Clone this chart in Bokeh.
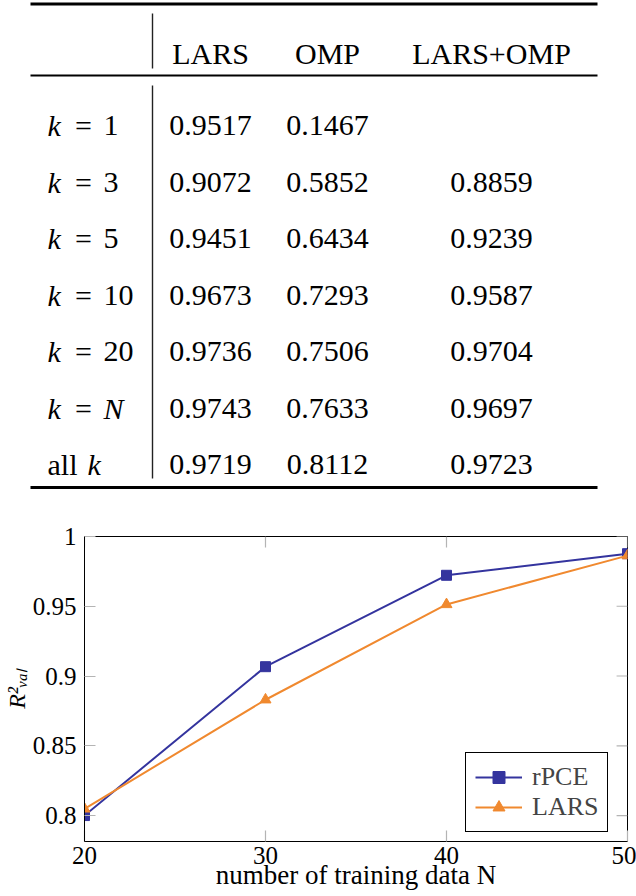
from bokeh.plotting import figure
from bokeh.models import Range1d, FixedTicker
from bokeh.layouts import column
from bokeh.embed import file_html
from bokeh.resources import INLINE
from bokeh.core.properties import value

SERIF = "Liberation Serif"

# ---------------- table data ----------------
table_columns = ["LARS", "OMP", "LARS+OMP"]
row_k = ["1", "3", "5", "10", "20", "N", "all"]          # "all" -> "all k"
lars_vals = [0.9517, 0.9072, 0.9451, 0.9673, 0.9736, 0.9743, 0.9719]
omp_vals = [0.1467, 0.5852, 0.6434, 0.7293, 0.7506, 0.7633, 0.8112]
lars_omp_vals = [None, 0.8859, 0.9239, 0.9587, 0.9704, 0.9697, 0.9723]

# ---------------- chart data ----------------
n_train = [20, 30, 40, 50]
r2_rpce = [0.8000, 0.9067, 0.9722, 0.9877]
r2_lars = [0.8048, 0.8830, 0.9513, 0.9863]
x_ticks = [20, 30, 40, 50]
y_ticks = [0.8, 0.85, 0.9, 0.95, 1.0]
y_tick_labels = ["0.8", "0.85", "0.9", "0.95", "1"]
series_names = ["rPCE", "LARS"]
x_title = "number of training data N"
y_title = "R\u00b2\u1d65\u2090\u2097"

BLUE = "#34349e"
ORANGE = "#f0892f"
TICK_GREY = "#b4b4b4"

W = 636

# ================= table figure =================
TH = 500
t = figure(width=W, height=TH, x_range=Range1d(0, W), y_range=Range1d(TH, 0),
           output_backend="svg", toolbar_location=None,
           min_border_left=0, min_border_right=0, min_border_top=0, min_border_bottom=0,
           x_axis_location=None, y_axis_location=None)
t.frame_align = False
t.grid.visible = False
t.outline_line_color = None

# rules
t.segment(x0=[30, 30, 30], y0=[3.5, 75, 487], x1=[597, 597, 597], y1=[3.5, 75, 487],
          line_width=[3, 1.8, 3], line_color="black")
t.segment(x0=[152, 152], y0=[13, 85], x1=[152, 152], y1=[68, 478],
          line_width=1.4, line_color="#222222")

col_x = [210, 327, 491]
header_base = 53
row0 = 125
row_h = 56.5
FS = "30px"

t.text(x=col_x, y=[header_base] * 3, text=table_columns, text_align="center",
       text_baseline="alphabetic", text_font=value(SERIF),
       text_font_size=value(FS), text_color="black")

vx, vy, vt = [], [], []
for i in range(len(row_k)):
    yb = row0 + i * row_h
    for j, col in enumerate([lars_vals, omp_vals, lars_omp_vals]):
        if col[i] is not None:
            vx.append(col_x[j]); vy.append(yb); vt.append("%.4f" % col[i])
t.text(x=vx, y=vy, text=vt, text_align="center", text_baseline="alphabetic",
       text_font=value(SERIF), text_font_size=value(FS), text_color="black")

# row labels
ix, iy, it = [], [], []
rx, ry, rt, ra = [], [], [], []
for i, k in enumerate(row_k):
    yb = row0 + i * row_h
    if k == "all":
        rx.append(47); ry.append(yb); rt.append("all"); ra.append("left")
        ix.append(87); iy.append(yb); it.append("k")
    else:
        ix.append(47); iy.append(yb); it.append("k")
        rx.append(83); ry.append(yb); rt.append("="); ra.append("center")
        if k.isalpha():
            ix.append(103); iy.append(yb); it.append(k)
        else:
            rx.append(103); ry.append(yb); rt.append(k); ra.append("left")
t.text(x=ix, y=iy, text=it, text_align="left", text_baseline="alphabetic",
       text_font=value(SERIF), text_font_style=value("italic"),
       text_font_size=value(FS), text_color="black")
for a in ["left", "center"]:
    sel = [n for n in range(len(rt)) if ra[n] == a]
    t.text(x=[rx[n] for n in sel], y=[ry[n] for n in sel], text=[rt[n] for n in sel],
           text_align=a, text_baseline="alphabetic", text_font=value(SERIF),
           text_font_size=value(FS), text_color="black")

# ================= chart figure =================
CH = 396
FL, FR, FT, FB = 80.0, 627.0, 536.0, 841.0   # frame in page px
Y0, Y1 = 0.7814, 1.0
c = figure(width=W, height=CH, x_range=Range1d(20, 50), y_range=Range1d(Y0, Y1),
           output_backend="svg", toolbar_location=None,
           min_border_left=int(FL), min_border_right=int(W - FR),
           min_border_top=int(FT - TH), min_border_bottom=int(TH + CH - FB))
c.frame_align = False
c.grid.visible = False
c.outline_line_color = "black"
c.outline_line_width = 1

TICK_LEN = 11
for ax, ticks, std in [(c.xaxis[0], x_ticks, 5), (c.yaxis[0], y_ticks, 8)]:
    ax.ticker = FixedTicker(ticks=ticks)
    ax.major_tick_in = TICK_LEN
    ax.major_tick_out = 0
    ax.major_tick_line_color = TICK_GREY
    ax.major_tick_line_width = 1.2
    ax.minor_tick_line_color = None
    ax.axis_line_color = "black"
    ax.major_label_text_font = SERIF
    ax.major_label_text_font_size = "25px"
    ax.major_label_text_color = "black"
    ax.major_label_standoff = std
    ax.axis_label_text_font = SERIF
    ax.axis_label_text_color = "black"
c.xaxis[0].major_label_overrides = {v: str(v) for v in x_ticks}
c.yaxis[0].major_label_overrides = dict(zip(y_ticks, y_tick_labels))

c.xaxis[0].axis_label = x_title
c.xaxis[0].axis_label_text_font_size = "27px"
c.xaxis[0].axis_label_text_font_style = "normal"
c.xaxis[0].axis_label_standoff = -7
c.yaxis[0].axis_label = y_title
c.yaxis[0].axis_label_text_font_size = "24px"
c.yaxis[0].axis_label_text_font_style = "italic"
c.yaxis[0].axis_label_standoff = 0

# ticks mirrored on the right and top edges of the frame
tx = (FR - FL) / 30.0
ty = (FB - FT) / (Y1 - Y0)
c.segment(x0=[50 - TICK_LEN / tx] * len(y_ticks), y0=y_ticks, x1=[50] * len(y_ticks), y1=y_ticks,
          line_color=TICK_GREY, line_width=1.2)
c.segment(x0=x_ticks, y0=[Y1 - TICK_LEN / ty] * len(x_ticks), x1=x_ticks, y1=[Y1] * len(x_ticks),
          line_color=TICK_GREY, line_width=1.2)

c.line(n_train, r2_rpce, line_color=BLUE, line_width=2, legend_label=series_names[0])
c.scatter(n_train, r2_rpce, marker="square", size=10, fill_color=BLUE, line_color=BLUE,
          legend_label=series_names[0])
c.line(n_train, r2_lars, line_color=ORANGE, line_width=2, legend_label=series_names[1])
c.scatter(n_train, r2_lars, marker="triangle", size=11, fill_color=ORANGE, line_color=ORANGE,
          legend_label=series_names[1])

lg = c.legend[0]
lg.location = (381, 9)
lg.label_text_font = SERIF
lg.label_text_font_size = "26px"
lg.glyph_width = 47
lg.glyph_height = 30
lg.label_height = 30
lg.label_standoff = 10
lg.padding = 9
lg.spacing = 0
lg.margin = 0
lg.border_line_color = "black"
lg.border_line_width = 1
lg.border_line_alpha = 1
lg.background_fill_alpha = 1

layout = column(t, c, spacing=0)
open("out.html", "w").write(file_html(layout, INLINE))
